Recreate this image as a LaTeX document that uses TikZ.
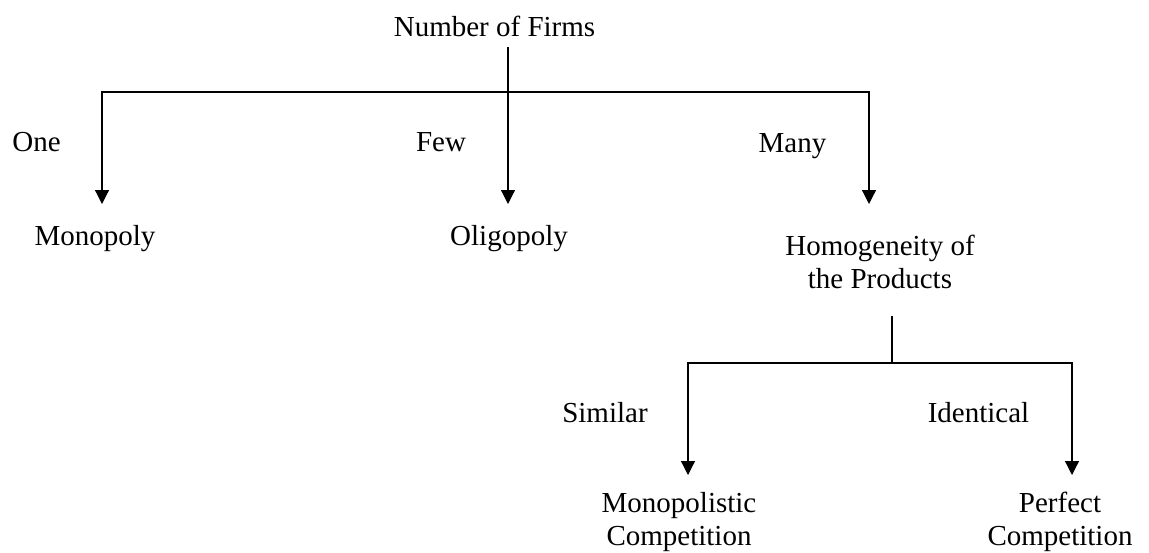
\documentclass[tikz,border=0pt]{standalone}
\usepackage{fontspec}
\setmainfont{Liberation Serif}
\usetikzlibrary{arrows.meta}
\begin{document}
\begin{tikzpicture}[x=1pt,y=-1pt,
  lbl/.style={font=\fontsize{29}{33}\selectfont, inner sep=0pt, anchor=base, align=center},
  conn/.style={line width=1.2pt, line cap=rect},
  arr/.style={line width=1.2pt, -{Triangle[length=14pt,width=14pt]}}]
\useasboundingbox (0,0) rectangle (1149,552);
% texts (two-line nodes are placed by the baseline of their last line)
\node[lbl] (firms) at (494.5,36) {Number of Firms};
\node[lbl] (one) at (36.5,151) {One};
\node[lbl] (few) at (441,151) {Few};
\node[lbl] (many) at (792.5,152) {Many};
\node[lbl] (mono) at (95,245) {Monopoly};
\node[lbl] (olig) at (509,245) {Oligopoly};
\node[lbl] (homog) at (880,288) {Homogeneity of\\the Products};
\node[lbl] (similar) at (605,422) {Similar};
\node[lbl] (identical) at (978.5,422) {Identical};
\node[lbl] (monocomp) at (679,545) {Monopolistic\\Competition};
\node[lbl] (perfcomp) at (1060,545) {Perfect\\Competition};
% junction points
\coordinate (topStart) at (508,47);
\coordinate (jL) at (102,92);
\coordinate (jR) at (869,92);
\coordinate (tipMono) at (102,204);
\coordinate (tipOlig) at (508,204);
\coordinate (tipHomog) at (869,204);
\coordinate (midStart) at (892,317);
\coordinate (midJ) at (892,363);
\coordinate (jL2) at (688,363);
\coordinate (jR2) at (1072,363);
\coordinate (tipMC) at (688,475);
\coordinate (tipPC) at (1072,475);
% connectors
\draw[conn] (jL) -- (jR);
\draw[arr] (topStart) -- (tipOlig);
\draw[arr] (jL) -- (tipMono);
\draw[arr] (jR) -- (tipHomog);
\draw[conn] (midStart) -- (midJ);
\draw[conn] (jL2) -- (jR2);
\draw[arr] (jL2) -- (tipMC);
\draw[arr] (jR2) -- (tipPC);
\end{tikzpicture}
\end{document}
